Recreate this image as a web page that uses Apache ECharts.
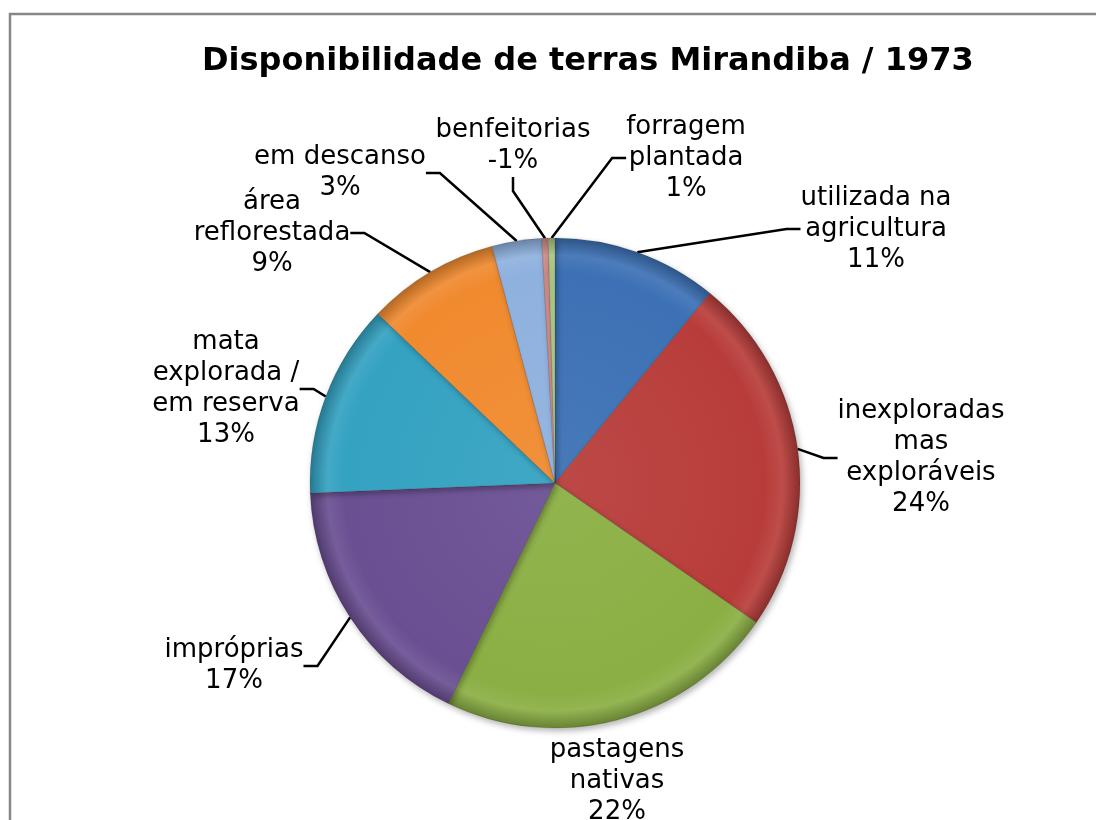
<!DOCTYPE html>
<html><head><meta charset="utf-8">
<script src="https://cdn.jsdelivr.net/npm/echarts@6/dist/echarts.min.js"></script>
<style>html,body{margin:0;padding:0;background:#fff}#c{width:1096px;height:820px}</style>
</head><body><div id="c"></div>
<script>
// ---- data ----
const titleText = 'Disponibilidade de terras Mirandiba / 1973';
const categories = ['utilizada na\nagricultura', 'inexploradas\nmas\nexploráveis', 'pastagens\nnativas', 'impróprias', 'mata\nexplorada /\nem reserva', 'área\nreflorestada', 'em descanso', 'benfeitorias', 'forragem\nplantada'];
const values = [10.90, 23.75, 22.52, 17.18, 12.78, 8.73, 3.28, 0.42, 0.44];
const percentLabels = ['11%', '24%', '22%', '17%', '13%', '9%', '3%', '-1%', '1%'];

// ---- style / layout ----
const colors = ['#3C71B5', '#B83D3A', '#8BAF44', '#6A4F92', '#34A2C1', '#F08A2F', '#8FB1DE', '#D08A88', '#A9C47F'];
const CX = 555, CY = 483, R = 245;
const labelCenters = [[876, 229], [921, 458], [617, 781], [234, 666], [226, 389], [272, 233], [340, 173], [513, 146], [686, 158]];
const showLine = [true, true, false, true, true, true, true, true, true];

function shade(hex, f) {
  const n = parseInt(hex.slice(1), 16);
  let r = (n >> 16) & 255, g = (n >> 8) & 255, b = n & 255;
  if (f >= 0) { r += (255 - r) * f; g += (255 - g) * f; b += (255 - b) * f; }
  else { r *= 1 + f; g *= 1 + f; b *= 1 + f; }
  return 'rgb(' + Math.round(r) + ',' + Math.round(g) + ',' + Math.round(b) + ')';
}

const chart = echarts.init(document.getElementById('c'), null, { renderer: 'canvas' });
const data = categories.map((name, i) => ({
  name: name,
  value: values[i],
  itemStyle: {
    color: new echarts.graphic.RadialGradient(CX, CY, R, [
      { offset: 0, color: shade(colors[i], 0.06) },
      { offset: 0.86, color: colors[i] },
      { offset: 0.93, color: shade(colors[i], 0.08) },
      { offset: 1, color: shade(colors[i], -0.25) }
    ], true)
  },
  labelLine: { show: showLine[i] }
}));

chart.setOption({
  backgroundColor: '#ffffff',
  animation: false,
  title: {
    text: titleText,
    left: 197, top: 41,
    textStyle: { fontFamily: 'DejaVu Sans', fontWeight: 'bold', fontSize: 32, color: '#000' }
  },
  graphic: [{
    type: 'rect', shape: { x: 10, y: 14, width: 1200, height: 1000 },
    style: { fill: null, stroke: '#878787', lineWidth: 2.5 }, silent: true
  }],
  series: [{
    type: 'pie',
    center: [CX, CY],
    radius: R,
    startAngle: 90,
    clockwise: true,
    avoidLabelOverlap: false,
    data: data,
    itemStyle: {
      borderColor: 'rgba(0,0,0,0.12)', borderWidth: 1,
      shadowBlur: 6, shadowColor: 'rgba(0,0,0,0.3)', shadowOffsetX: 2, shadowOffsetY: 3
    },
    label: {
      show: true, position: 'outside',
      formatter: p => p.name + '\n' + percentLabels[p.dataIndex],
      fontFamily: 'DejaVu Sans', fontSize: 26, lineHeight: 31, color: '#000'
    },
    labelLine: { show: true, length: 12, length2: 14, lineStyle: { color: '#000', width: 2.5 } },
    labelLayout: function (p) {
      const c = labelCenters[p.dataIndex];
      return { x: c[0], y: c[1], align: 'center', verticalAlign: 'middle' };
    },
    emphasis: { disabled: true }
  }]
});
</script>
</body></html>
